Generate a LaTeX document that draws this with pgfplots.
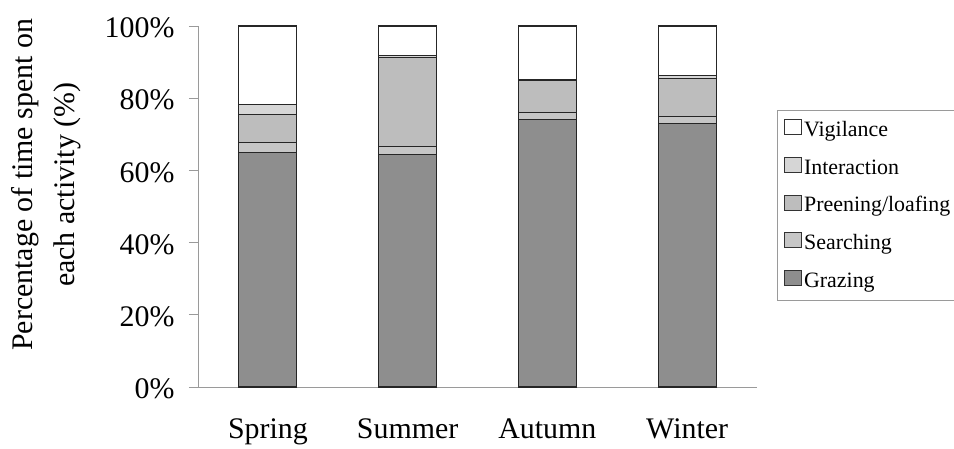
\documentclass[border=0pt]{standalone}
\usepackage{pgfplots}
\pgfplotsset{compat=1.18}
\usepackage{fontspec}
\setmainfont{Liberation Serif}
\definecolor{cGraz}{HTML}{8E8E8E}
\definecolor{cSearch}{HTML}{C6C6C6}
\definecolor{cPreen}{HTML}{BDBDBD}
\definecolor{cInter}{HTML}{D6D6D6}
\definecolor{axgray}{HTML}{9A9A9A}
\begin{document}
\begin{tikzpicture}
\useasboundingbox (-198bp,-62bp) rectangle (756bp,387bp);
\begin{axis}[
  at={(0,0)}, anchor=south west,
  scale only axis, width=559bp, height=361bp,
  ybar stacked, bar width=58bp,
  xmin=-0.5, xmax=3.5, ymin=0, ymax=100,
  axis x line*=bottom, axis y line*=left,
  axis line style={draw=axgray, line width=0.8bp, -},
  xtick={0,1,2,3},
  xticklabels={Spring,Summer,Autumn,Winter},
  major x tick style={draw=none},
  extra x ticks={-0.5,0.5,1.5,2.5,3.5},
  extra x tick labels={},
  extra x tick style={major tick length=9bp, tick align=outside, tick style={draw=axgray, line width=0.8bp}},
  ytick={0,20,40,60,80,100},
  yticklabels={0\%,20\%,40\%,60\%,80\%,100\%},
  ytick style={draw=axgray, line width=0.8bp},
  tick align=outside, major tick length=9bp,
  tick label style={font=\fontsize{30}{36}\selectfont},
  yticklabel style={xshift=-11bp, yshift=-2bp},
  xticklabel style={yshift=-19bp},
  /pgf/number format/assume math mode=true,
  ylabel={Percentage of time spent on\\each activity (\%)},
  ylabel style={font=\fontsize{30}{42}\selectfont, align=center, at={(axis description cs:-0.272,0.56)}, anchor=center},
  every axis plot/.append style={draw=black!85, line width=1.1bp},
  legend style={at={(1.0358,0.767)}, anchor=north west, draw=axgray, fill=white,
    font=\fontsize{22}{26}\selectfont, row sep=17bp, inner xsep=7bp, inner ysep=9bp},
  legend cell align=left,
  reverse legend,
  legend image code/.code={\draw[#1, draw=black!80, line width=0.9bp] (0bp,-5bp) rectangle (17bp,10bp);},
]
\addplot[fill=cGraz] coordinates {(0,64.9) (1,64.5) (2,74.0) (3,72.9)};
\addplot[fill=cSearch] coordinates {(0,2.9) (1,2.0) (2,2.0) (3,2.0)};
\addplot[fill=cPreen] coordinates {(0,7.6) (1,24.8) (2,8.8) (3,10.6)};
\addplot[fill=cInter] coordinates {(0,2.8) (1,0.5) (2,0.3) (3,0.9)};
\addplot[fill=white] coordinates {(0,21.8) (1,8.2) (2,14.9) (3,13.6)};
\legend{Grazing,Searching,Preening/loafing,Interaction,Vigilance}
\end{axis}
\end{tikzpicture}
\end{document}
